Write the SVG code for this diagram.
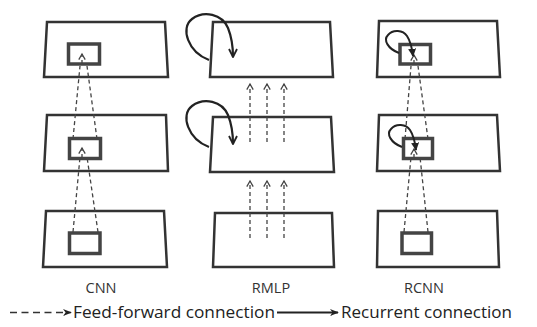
<svg xmlns="http://www.w3.org/2000/svg" width="537" height="327" viewBox="0 0 537 327">
<defs>
<marker id="chev" viewBox="0 0 10 10" refX="8" refY="5" markerWidth="8" markerHeight="8" orient="auto" markerUnits="userSpaceOnUse">
<path d="M1,1 L8,5 L1,9" fill="none" stroke="#444" stroke-width="1.6"/>
</marker>
<marker id="rec" viewBox="0 0 10 10" refX="9" refY="5" markerWidth="10" markerHeight="10" orient="auto" markerUnits="userSpaceOnUse">
<path d="M1,1 L9,5 L1,9" fill="none" stroke="#222" stroke-width="1.8"/>
</marker>
<marker id="recs" viewBox="0 0 10 10" refX="9" refY="5" markerWidth="8" markerHeight="8" orient="auto" markerUnits="userSpaceOnUse">
<path d="M0,0 L10,5 L0,10 Z" fill="#222"/>
</marker>
<marker id="leg" viewBox="0 0 10 10" refX="9" refY="5" markerWidth="9" markerHeight="9" orient="auto" markerUnits="userSpaceOnUse">
<path d="M0,1 L10,5 L0,9 L3,5 Z" fill="#222"/>
</marker>
</defs>
<style>
.panel{fill:#fff;stroke:#333;stroke-width:2.5;stroke-linejoin:miter}
.box{fill:#fff;stroke:#444;stroke-width:3.5}
.ff{fill:none;stroke:#444;stroke-width:1.3;stroke-dasharray:4 3}
.ffa{fill:none;stroke:#444;stroke-width:1.3;stroke-dasharray:4 3;marker-end:url(#chev)}
.rc{fill:none;stroke:#222;stroke-width:2.2;marker-end:url(#rec)}
.rcs{fill:none;stroke:#222;stroke-width:2;marker-end:url(#recs)}
.lbl{font-family:"Open Sans","Liberation Sans",sans-serif;font-size:14.5px;fill:#333;text-anchor:middle}
.leg{font-family:"Open Sans","Liberation Sans",sans-serif;font-size:15.5px;fill:#222}
</style>

<g id="cnn-top"><polygon class="panel" points="47,22 165,22 168,77 44,77"/><rect class="box" x="68.5" y="44" width="31" height="20"/></g>
<g id="cnn-mid"><polygon class="panel" points="47,115 166,115 168,171 44,171"/><rect class="box" x="69.5" y="138.5" width="31" height="20"/></g>
<g id="cnn-bot"><polygon class="panel" points="46,211 164,211 167,267 43,267"/><rect class="box" x="69.5" y="233" width="30.5" height="20.5"/></g>

<g id="rmlp-top"><polygon class="panel" points="213,22 330,22 333,77 210,77"/></g>
<g id="rmlp-mid"><polygon class="panel" points="213,117 331,117 334,172 210,172"/></g>
<g id="rmlp-bot"><polygon class="panel" points="215,213 332,213 334,267 213,267"/></g>

<g id="rcnn-top"><polygon class="panel" points="379,21 497,21 500,77 377,77"/><rect class="box" x="400" y="44.5" width="30.5" height="19.5"/></g>
<g id="rcnn-mid"><polygon class="panel" points="379,115 497,115 500,171 377,171"/><rect class="box" x="403.5" y="138.5" width="29" height="20"/></g>
<g id="rcnn-bot"><polygon class="panel" points="378,211 497,211 499,267 377,267"/><rect class="box" x="402" y="233" width="29.5" height="20.5"/></g>

<g id="connectors">
<line class="ff" x1="73" y1="232" x2="80" y2="157"/>
<line class="ff" x1="98" y1="232" x2="87" y2="157"/>
<line class="ffa" x1="82" y1="158" x2="82" y2="148"/>
<line class="ff" x1="73" y1="139" x2="80" y2="66"/>
<line class="ff" x1="97" y1="139" x2="87" y2="66"/>
<line class="ffa" x1="82" y1="64" x2="82" y2="54"/>
<line class="ffa" x1="250" y1="142" x2="250" y2="84"/>
<line class="ffa" x1="267" y1="142" x2="267" y2="84"/>
<line class="ffa" x1="284" y1="142" x2="284" y2="84"/>
<line class="ffa" x1="250" y1="238" x2="250" y2="181"/>
<line class="ffa" x1="267" y1="238" x2="267" y2="181"/>
<line class="ffa" x1="284" y1="238" x2="284" y2="181"/>
<path class="rc" d="M209,60 C188,52 180,28 192,19 C204,10 222,14 228,28 C232,38 233,47 233,57"/>
<path class="rc" d="M209,147 C188,139 180,115 192,106 C204,97 222,101 228,115 C232,125 233,134 233,144"/>
<line class="ff" x1="404" y1="232" x2="411" y2="157"/>
<line class="ff" x1="428" y1="232" x2="420" y2="157"/>
<line class="ffa" x1="414" y1="158" x2="414" y2="149"/>
<line class="ff" x1="405" y1="139" x2="411" y2="66"/>
<line class="ff" x1="428" y1="139" x2="418" y2="66"/>
<line class="ffa" x1="414" y1="64" x2="414" y2="55"/>
<path class="rcs" d="M399,53 C388,49 383,40 388,35 C393,29 403,30 407,36 C411,42 412,48 413,56"/>
<path class="rcs" d="M402,147 C391,143 386,134 391,129 C396,123 406,124 410,130 C414,136 415,142 416,150"/>
<line x1="10" y1="312.5" x2="71" y2="312.5" stroke="#333" stroke-width="1.5" stroke-dasharray="7 4.5" marker-end="url(#leg)"/>
<line x1="277" y1="312.5" x2="338" y2="312.5" stroke="#222" stroke-width="1.8" marker-end="url(#leg)"/>
</g>

<text class="lbl" x="101" y="293">CNN</text>
<text class="lbl" x="271" y="293">RMLP</text>
<text class="lbl" x="424" y="293">RCNN</text>
<text class="leg" x="73" y="318" textLength="202" lengthAdjust="spacingAndGlyphs">Feed-forward connection</text>
<text class="leg" x="341" y="318" textLength="171" lengthAdjust="spacingAndGlyphs">Recurrent connection</text>
</svg>
